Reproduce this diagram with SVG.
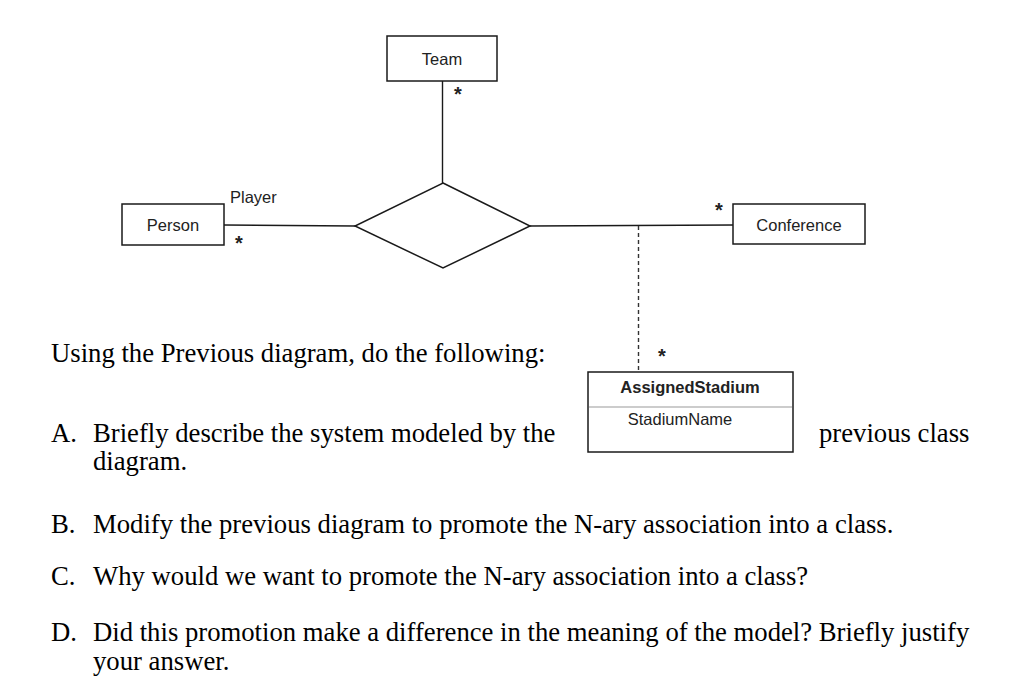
<svg xmlns="http://www.w3.org/2000/svg" width="1024" height="699" viewBox="0 0 1024 699">
<style>
.box{fill:#fff;stroke:#1a1a1a;stroke-width:1.5}
.ln{fill:none;stroke:#1a1a1a;stroke-width:1.4}
.dash{fill:none;stroke:#333;stroke-width:1.4;stroke-dasharray:4 3}
.sep{stroke:#999;stroke-width:1.2}
.lbl{font-family:"Liberation Sans",Arial,sans-serif;font-size:16.5px;fill:#222}
.star{font-family:"Liberation Sans",Arial,sans-serif;font-size:20px;font-weight:bold;fill:#222;text-anchor:middle}
.bold{font-weight:bold}
.mid{text-anchor:middle}
.body{font-family:"Liberation Serif","Times New Roman",serif;font-size:26.7px;fill:#000}
</style>
<rect width="1024" height="699" fill="#fff"/>
<g id="connectors">
<line class="ln" x1="442.5" y1="81" x2="442.5" y2="183"/>
<line class="ln" x1="224" y1="225" x2="355" y2="226"/>
<line class="ln" x1="530" y1="226" x2="733" y2="225"/>
<line class="dash" x1="638.5" y1="226" x2="638.5" y2="372"/>
<text class="lbl" x="230" y="203">Player</text>
<text class="star" x="458" y="101">*</text>
<text class="star" x="239" y="250">*</text>
<text class="star" x="719" y="217">*</text>
<text class="star" x="662" y="363">*</text>
</g>
<g id="team">
<rect class="box" x="387" y="36" width="110" height="45"/>
<text class="lbl mid" x="442" y="65">Team</text>
</g>
<g id="person">
<rect class="box" x="122" y="204" width="102" height="41"/>
<text class="lbl mid" x="173" y="231">Person</text>
</g>
<g id="association">
<polygon class="box" points="443,183 530,226 443,268 355,226"/>
</g>
<g id="conference">
<rect class="box" x="733" y="204" width="132" height="40"/>
<text class="lbl mid" x="799" y="230.5">Conference</text>
</g>
<g id="assignedStadium">
<rect class="box" x="588" y="372" width="205" height="80"/>
<line class="sep" x1="589" y1="407" x2="792" y2="407"/>
<text class="lbl bold mid" x="690" y="393">AssignedStadium</text>
<text class="lbl mid" x="680" y="425">StadiumName</text>
</g>
<g id="questions">
<text class="body" x="51" y="362">Using the Previous diagram, do the following:</text>
<text class="body" x="51" y="442">A.</text>
<text class="body" x="93" y="442">Briefly describe the system modeled by the</text>
<text class="body" x="819" y="442">previous class</text>
<text class="body" x="93" y="470">diagram.</text>
<text class="body" x="51" y="533">B.</text>
<text class="body" x="93" y="533">Modify the previous diagram to promote the N-ary association into a class.</text>
<text class="body" x="51" y="585">C.</text>
<text class="body" x="93" y="585">Why would we want to promote the N-ary association into a class?</text>
<text class="body" x="51" y="641">D.</text>
<text class="body" x="93" y="641">Did this promotion make a difference in the meaning of the model? Briefly justify</text>
<text class="body" x="93" y="670">your answer.</text>
</g>
</svg>
